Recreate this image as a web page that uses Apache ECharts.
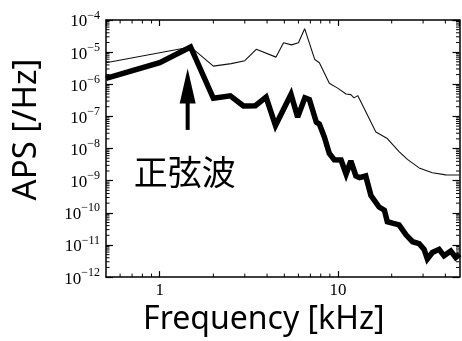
<!DOCTYPE html>
<html>
<head>
<meta charset="utf-8">
<script src="https://cdn.jsdelivr.net/npm/echarts@6/dist/echarts.min.js"></script>
<style>
  html, body { margin: 0; padding: 0; background: #fff; }
  #chart { width: 462px; height: 341px; }
</style>
</head>
<body>
<div id="chart"></div>
<script>
// Frequency axis values (kHz) and amplitude power spectra (/Hz)
const freqThin = [0.5, 1.49, 2.0, 2.52, 3.0, 3.48, 4.49, 4.95, 5.48, 6.0, 6.5, 7.41, 7.86, 8.94, 9.95, 11.1, 11.8, 12.3, 12.9, 16.3, 18.9, 22.0, 24.5, 28.5, 33.8, 40.2, 48];
const apsThin = [4.7e-6, 1.45e-5, 3.67e-6, 4.38e-6, 5.41e-6, 1.22e-5, 7.0e-6, 1.95e-5, 1.68e-5, 1.95e-5, 5.37e-5, 5.87e-6, 4.7e-6, 1.08e-6, 7.6e-7, 5.0e-7, 4.77e-7, 3.78e-7, 4.44e-7, 3.26e-8, 2.04e-8, 8.05e-9, 4.6e-9, 2.5e-9, 1.76e-9, 1.52e-9, 1.5e-9];

const freqThick = [0.5, 1.0, 1.49, 2.0, 2.49, 2.95, 3.44, 3.95, 4.46, 5.45, 5.94, 6.52, 6.91, 7.56, 7.86, 8.38, 8.94, 9.53, 10.4, 11.1, 11.8, 12.6, 13.2, 14.3, 15.3, 17.0, 18.2, 18.9, 20.2, 22.0, 24.0, 26.2, 28.5, 30.4, 31.7, 33.8, 36.9, 39.3, 42.9, 45.7, 48];
const apsThick = [1.53e-6, 4.7e-6, 1.45e-5, 3.65e-7, 4.35e-7, 2.11e-7, 2.16e-7, 3.97e-7, 5.2e-8, 4.9e-7, 9.5e-8, 3.78e-7, 3.36e-7, 6.6e-8, 5.8e-8, 2.3e-8, 7.0e-9, 4.5e-9, 4.4e-9, 1.61e-9, 4.1e-9, 1.4e-9, 1.24e-9, 1.4e-9, 3.45e-10, 1.52e-10, 1.21e-10, 5.3e-11, 4.76e-11, 4.23e-11, 2.1e-11, 1.26e-11, 1.1e-11, 7.3e-12, 3.65e-12, 5.8e-12, 7.3e-12, 4.6e-12, 6.5e-12, 4.1e-12, 5.2e-12];

// Axis ranges and tick labels
const xRange = [0.5, 48];
const yRange = [1e-12, 1e-4];
const xTickLabels = ['1', '10'];
const yExponents = [-12, -11, -10, -9, -8, -7, -6, -5, -4];

// Annotation: arrow pointing at the sine-wave peak, with its caption
const arrowFreq = 1.435;
const arrowTip = 3.1e-6;
const arrowHeadBase = 2.5e-7;
const arrowTail = 3.8e-8;
const captionText = '正弦波';
const captionLevel = 1.9e-9;

const pair = (xs, ys) => xs.map((x, i) => [x, ys[i]]);

const serif = 'Liberation Serif';
const sans = 'Noto Sans';

const chart = echarts.init(document.getElementById('chart'), null, { renderer: 'canvas' });

const axisLineStyle = { color: '#000', width: 1.5 };

function yLabel(v) {
  const e = Math.round(Math.log10(v));
  if (yExponents.indexOf(e) < 0 || Math.abs(Math.log10(v) - e) > 1e-6) return '';
  return '{b|10}{s|\u2212' + Math.abs(e) + '}';
}
function xLabel(v) {
  const s = String(Math.round(v));
  return (Math.abs(Math.log10(v) - Math.round(Math.log10(v))) < 1e-6 && xTickLabels.indexOf(s) >= 0) ? s : '';
}

chart.setOption({
  animation: false,
  backgroundColor: '#fff',
  grid: { left: 106, top: 20, right: 2.5, bottom: 58, containLabel: false },
  xAxis: [
    {
      type: 'log', logBase: 10, min: xRange[0], max: xRange[1],
      name: 'Frequency [kHz]', nameLocation: 'middle', nameGap: 19,
      nameTextStyle: { fontFamily: sans, fontSize: 32, color: '#000', padding: [0, 38, 0, 0] },
      axisLine: { onZero: false, lineStyle: axisLineStyle },
      axisTick: { inside: true, length: 6, lineStyle: { color: '#000', width: 1.2 } },
      axisLabel: { formatter: xLabel, fontFamily: serif, fontSize: 17, color: '#000', margin: 5, showMinLabel: false, showMaxLabel: false },
      splitLine: { show: false }
    },
    {
      type: 'log', logBase: 10, min: xRange[0], max: xRange[1], position: 'top',
      axisLine: { onZero: false, lineStyle: axisLineStyle },
      axisTick: { inside: true, length: 6, lineStyle: { color: '#000', width: 1.2 } },
      axisLabel: { show: false },
      splitLine: { show: false }
    }
  ],
  yAxis: [
    {
      type: 'log', logBase: 10, min: yRange[0], max: yRange[1], interval: 1,
      name: 'APS [/Hz]', nameLocation: 'middle', nameGap: 63,
      nameTextStyle: { fontFamily: sans, fontSize: 33, color: '#000', padding: [0, 0, 0, 38] },
      axisLine: { onZero: false, lineStyle: axisLineStyle },
      axisTick: { inside: true, length: 7, lineStyle: { color: '#000', width: 1.2 } },
      axisLabel: {
        formatter: yLabel, margin: 6, color: '#000',
        rich: {
          b: { fontFamily: serif, fontSize: 17, color: '#000', verticalAlign: 'bottom' },
          s: { fontFamily: serif, fontSize: 12, color: '#000', verticalAlign: 'top', padding: [0, 0, 9, 0] }
        }
      },
      splitLine: { show: false }
    },
    {
      type: 'log', logBase: 10, min: yRange[0], max: yRange[1], interval: 1, position: 'right',
      axisLine: { onZero: false, lineStyle: axisLineStyle },
      axisTick: { inside: true, length: 7, lineStyle: { color: '#000', width: 1.2 } },
      axisLabel: { show: false },
      splitLine: { show: false }
    }
  ],
  series: [
    {
      type: 'line', data: pair(freqThin, apsThin), showSymbol: false, symbol: 'none',
      lineStyle: { color: '#111', width: 1.1 }, z: 3
    },
    {
      type: 'line', data: pair(freqThick, apsThick), showSymbol: false, symbol: 'none',
      lineStyle: { color: '#000', width: 5.5, join: 'miter', miterLimit: 3 }, z: 4
    }
  ]
});

// Minor log ticks (2..9 within each decade) on all four sides, plus the annotation
function buildOverlay() {
  const gfx = [];
  const rect = chart.getModel().getComponent('grid').coordinateSystem.getRect();
  const x0 = rect.x, x1 = rect.x + rect.width, y0 = rect.y, y1 = rect.y + rect.height;
  const tickStyle = { stroke: '#000', lineWidth: 1 };
  // x minor ticks
  for (let d = -1; d <= 1; d++) {
    for (let m = 2; m <= 9; m++) {
      const v = m * Math.pow(10, d);
      if (v <= xRange[0] || v >= xRange[1]) continue;
      const px = chart.convertToPixel({ xAxisIndex: 0 }, v);
      gfx.push({ type: 'line', shape: { x1: px, y1: y1, x2: px, y2: y1 - 3.5 }, style: tickStyle, silent: true, z: 10 });
      gfx.push({ type: 'line', shape: { x1: px, y1: y0, x2: px, y2: y0 + 3.5 }, style: tickStyle, silent: true, z: 10 });
    }
  }
  // y minor ticks
  for (let d = -12; d < -4; d++) {
    for (let m = 2; m <= 9; m++) {
      const v = m * Math.pow(10, d);
      const py = chart.convertToPixel({ yAxisIndex: 0 }, v);
      gfx.push({ type: 'line', shape: { x1: x0, y1: py, x2: x0 + 3.5, y2: py }, style: tickStyle, silent: true, z: 10 });
      gfx.push({ type: 'line', shape: { x1: x1, y1: py, x2: x1 - 3.5, y2: py }, style: tickStyle, silent: true, z: 10 });
    }
  }
  // Arrow
  const ax = chart.convertToPixel({ xAxisIndex: 0 }, arrowFreq);
  const tipY = chart.convertToPixel({ yAxisIndex: 0 }, arrowTip);
  const headY = chart.convertToPixel({ yAxisIndex: 0 }, arrowHeadBase);
  const tailY = chart.convertToPixel({ yAxisIndex: 0 }, arrowTail);
  gfx.push({ type: 'rect', shape: { x: ax - 2, y: headY - 1, width: 4, height: tailY - headY + 1 }, style: { fill: '#000' }, silent: true, z: 20 });
  gfx.push({ type: 'polygon', shape: { points: [[ax, tipY], [ax - 8, headY], [ax + 8, headY]] }, style: { fill: '#000' }, silent: true, z: 20 });
  // Caption
  const cy = chart.convertToPixel({ yAxisIndex: 0 }, captionLevel);
  gfx.push({
    type: 'text', x: ax - 3, y: cy, silent: true, z: 20,
    style: { text: captionText, fill: '#000', font: '34px "Noto Sans CJK JP"', textAlign: 'center', textVerticalAlign: 'middle' }
  });
  chart.setOption({ graphic: gfx });
}
buildOverlay();
</script>
</body>
</html>
